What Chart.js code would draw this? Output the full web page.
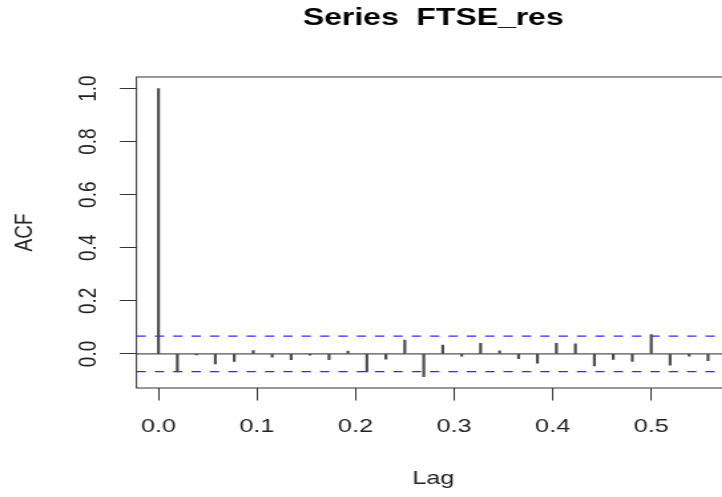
<!DOCTYPE html>
<html>
<head>
<meta charset="utf-8">
<title>Series FTSE_res</title>
<script src="https://cdn.jsdelivr.net/npm/chart.js@4.4.1/dist/chart.umd.min.js"></script>
<style>
  html, body { margin: 0; padding: 0; background: #fff; overflow: hidden; }
  /* the R device picture is stretched sideways, so is the canvas */
  #acf { display: block; transform: scaleX(1.33); transform-origin: 0 0; }
</style>
</head>
<body>
<canvas id="acf" width="560" height="497"></canvas>
<script>
/* ---------- DATA ---------- */
const lags = [0, 0.0192, 0.0385, 0.0577, 0.0769, 0.0962, 0.1154, 0.1346, 0.1538, 0.1731,
              0.1923, 0.2115, 0.2308, 0.25, 0.2692, 0.2885, 0.3077, 0.3269, 0.3462, 0.3654,
              0.3846, 0.4038, 0.4231, 0.4423, 0.4615, 0.4808, 0.5, 0.5192, 0.5385, 0.5577];
const acfValues = [1.0, -0.068, -0.004, -0.038, -0.028, 0.013, -0.012, -0.022, -0.005, -0.022,
                   0.011, -0.068, -0.020, 0.052, -0.086, 0.033, -0.008, 0.040, 0.012, -0.018,
                   -0.035, 0.040, 0.038, -0.045, -0.021, -0.028, 0.073, -0.042, -0.008, -0.025];
const ciBound = 0.067;
const xTicks = [0, 0.1, 0.2, 0.3, 0.4, 0.5];
const yTicks = [0, 0.2, 0.4, 0.6, 0.8, 1.0];
const xRange = [-0.0223, 0.58];
const yRange = [-0.1284, 1.0434];

/* ---------- HELPERS ---------- */
const $ = id => document.getElementById(id);
const FONT = "'Liberation Sans', Arial, Helvetica, sans-serif";

const hLine = (y, color, dash) => ({
  type: 'line',
  data: xRange.map(x => ({ x: x, y: y })),
  borderColor: color,
  borderWidth: 1.2,
  borderDash: dash,
  pointRadius: 0,
  fill: false,
  order: 2
});

// box, rotated y labels and the main title, the way R draws them
const rDecor = {
  id: 'rDecor',
  afterDraw(chart) {
    const ctx = chart.ctx;
    const a = chart.chartArea;
    const ys = chart.scales.y;
    ctx.save();
    ctx.strokeStyle = '#333';
    ctx.lineWidth = 1;
    ctx.strokeRect(a.left, a.top, a.right - a.left, a.bottom - a.top);

    ctx.fillStyle = '#222';
    ctx.font = '19px ' + FONT;
    ctx.textAlign = 'center';
    ctx.textBaseline = 'middle';
    yTicks.forEach(v => {
      ctx.save();
      ctx.translate(67, ys.getPixelForValue(v));
      ctx.rotate(-Math.PI / 2);
      ctx.fillText(v.toFixed(1), 0, 0);
      ctx.restore();
    });

    ctx.fillStyle = '#000';
    ctx.font = 'bold 24px ' + FONT;
    ctx.fillText('Series  FTSE_res', (a.left + a.right) / 2, 18);
    ctx.restore();
  }
};

/* ---------- CHART ---------- */
new Chart($('acf').getContext('2d'), {
  type: 'bar',
  data: {
    datasets: [
      {
        type: 'bar',
        data: lags.map((x, i) => ({ x: x, y: acfValues[i] })),
        backgroundColor: '#4a4a4a',
        borderWidth: 0,
        barThickness: 1.5,
        order: 1
      },
      hLine(0, '#555', []),
      hLine(ciBound, '#2b2bff', [7, 6.8]),
      hLine(-ciBound, '#2b2bff', [7, 6.8])
    ]
  },
  options: {
    responsive: false,
    animation: false,
    devicePixelRatio: 1,
    layout: { padding: { top: 77, right: 11.1, bottom: 0, left: 0 } },
    plugins: { legend: { display: false }, title: { display: false }, tooltip: { enabled: false } },
    scales: {
      x: {
        type: 'linear',
        min: xRange[0],
        max: xRange[1],
        bounds: 'data',
        offset: false,
        grid: { offset: false, drawOnChartArea: false, drawTicks: true, tickLength: 12.5, color: '#333' },
        border: { display: false },
        afterBuildTicks: s => { s.ticks = xTicks.map(v => ({ value: v })); },
        afterFit: s => { s.height = 109; },
        ticks: {
          autoSkip: false,
          maxRotation: 0,
          padding: 15,
          color: '#222',
          font: { family: FONT, size: 19 },
          callback: v => v.toFixed(1)
        },
        title: {
          display: true,
          text: 'Lag',
          color: '#222',
          font: { family: FONT, size: 19 },
          padding: { top: 0, bottom: 6.6 }
        }
      },
      y: {
        min: yRange[0],
        max: yRange[1],
        bounds: 'data',
        grid: { drawOnChartArea: false, drawTicks: true, tickLength: 12.5, color: '#333' },
        border: { display: false },
        afterBuildTicks: s => { s.ticks = yTicks.map(v => ({ value: v })); },
        afterFit: s => { s.width = 102.6; },
        ticks: { display: false },
        title: {
          display: true,
          text: 'ACF',
          color: '#222',
          font: { family: FONT, size: 19 },
          padding: { top: 7.8, bottom: 0 }
        }
      }
    }
  },
  plugins: [rDecor]
});
</script>
</body>
</html>
